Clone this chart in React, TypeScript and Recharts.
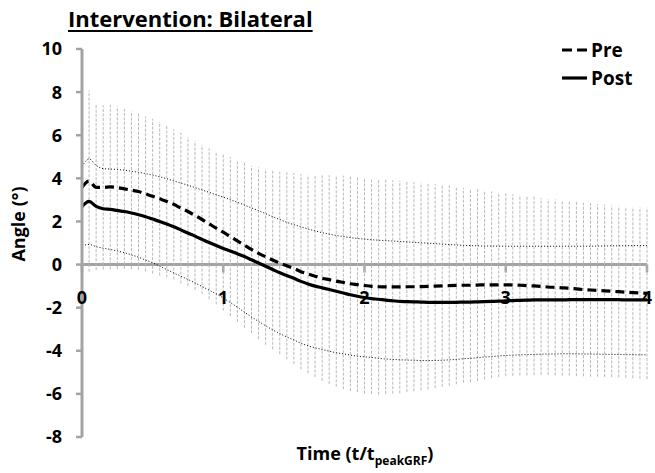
import React from 'react';
import { LineChart, Line, XAxis, YAxis, ErrorBar, ReferenceLine, ReferenceDot } from 'recharts';

// time in units of t/t_peakGRF
const time = [
  0, 0.05, 0.1, 0.15, 0.2, 0.25, 0.3, 0.35, 0.4, 0.45, 0.5, 0.55, 0.6, 0.65, 0.7, 0.75, 0.8, 0.85, 0.9, 0.95,
  1, 1.05, 1.1, 1.15, 1.2, 1.25, 1.3, 1.35, 1.4, 1.45, 1.5, 1.55, 1.6, 1.65, 1.7, 1.75, 1.8, 1.85, 1.9, 1.95,
  2, 2.05, 2.1, 2.15, 2.2, 2.25, 2.3, 2.35, 2.4, 2.45, 2.5, 2.55, 2.6, 2.65, 2.7, 2.75, 2.8, 2.85, 2.9, 2.95,
  3, 3.05, 3.1, 3.15, 3.2, 3.25, 3.3, 3.35, 3.4, 3.45, 3.5, 3.55, 3.6, 3.65, 3.7, 3.75, 3.8, 3.85, 3.9, 3.95,
  4,
];

const pre = [
  3.59, 3.87, 3.58, 3.58, 3.6, 3.57, 3.51, 3.45, 3.39, 3.28, 3.17, 3.05, 2.93, 2.79, 2.62, 2.46, 2.28, 2.09, 1.89, 1.69,
  1.5, 1.3, 1.1, 0.9, 0.7, 0.52, 0.36, 0.21, 0.07, -0.06, -0.18, -0.33, -0.44, -0.54, -0.63, -0.7, -0.77, -0.83, -0.89, -0.93,
  -0.97, -1.01, -1.03, -1.04, -1.04, -1.04, -1.03, -1.03, -1.02, -1.01, -1.0, -0.99, -0.98, -0.97, -0.96, -0.96, -0.95, -0.94, -0.94, -0.94,
  -0.94, -0.95, -0.96, -0.98, -0.99, -1.01, -1.04, -1.06, -1.08, -1.1, -1.13, -1.16, -1.18, -1.2, -1.22, -1.24, -1.26, -1.28, -1.3, -1.32,
  -1.34,
];

const preSD = [
  3.9, 4.2, 3.84, 3.81, 3.82, 3.77, 3.71, 3.66, 3.63, 3.59, 3.59, 3.56, 3.53, 3.48, 3.5, 3.46, 3.46, 3.46, 3.5, 3.54,
  3.64, 3.69, 3.76, 3.83, 3.88, 3.98, 4.08, 4.14, 4.23, 4.34, 4.43, 4.53, 4.6, 4.68, 4.76, 4.84, 4.9, 4.95, 4.98, 4.99,
  5.01, 5.0, 5.01, 4.97, 4.95, 4.93, 4.88, 4.85, 4.81, 4.78, 4.73, 4.68, 4.65, 4.58, 4.52, 4.49, 4.45, 4.39, 4.33, 4.28,
  4.24, 4.21, 4.18, 4.16, 4.14, 4.1, 4.08, 4.08, 4.07, 4.06, 4.04, 4.02, 4.02, 4.0, 3.99, 3.98, 3.97, 3.97, 3.97, 3.97,
  3.97,
];

const post = [
  2.69, 2.93, 2.7, 2.59, 2.56, 2.51, 2.46, 2.39, 2.31, 2.22, 2.11, 2.0, 1.88, 1.75, 1.61, 1.46, 1.32, 1.17, 1.02, 0.88,
  0.75, 0.63, 0.5, 0.37, 0.22, 0.07, -0.08, -0.23, -0.38, -0.51, -0.64, -0.78, -0.9, -1.0, -1.08, -1.16, -1.24, -1.32, -1.4, -1.47,
  -1.53, -1.58, -1.61, -1.65, -1.68, -1.71, -1.72, -1.73, -1.74, -1.75, -1.75, -1.75, -1.75, -1.75, -1.74, -1.74, -1.73, -1.72, -1.71, -1.7,
  -1.68, -1.67, -1.66, -1.65, -1.64, -1.64, -1.64, -1.64, -1.64, -1.63, -1.63, -1.63, -1.63, -1.63, -1.63, -1.63, -1.63, -1.64, -1.64, -1.64,
  -1.64,
];

// Post +/- 1 SD (dotted lines)
const postUpper = [
  4.55, 4.9, 4.6, 4.45, 4.43, 4.41, 4.38, 4.33, 4.28, 4.22, 4.15, 4.07, 3.98, 3.88, 3.78, 3.68, 3.57, 3.46, 3.35, 3.24,
  3.13, 3.01, 2.89, 2.76, 2.63, 2.5, 2.36, 2.22, 2.09, 1.96, 1.85, 1.75, 1.65, 1.56, 1.48, 1.41, 1.35, 1.3, 1.25, 1.21,
  1.18, 1.15, 1.13, 1.11, 1.09, 1.07, 1.05, 1.03, 1.01, 0.99, 0.97, 0.95, 0.93, 0.91, 0.89, 0.88, 0.87, 0.86, 0.86, 0.85,
  0.85, 0.85, 0.85, 0.85, 0.85, 0.85, 0.85, 0.85, 0.85, 0.85, 0.85, 0.85, 0.85, 0.86, 0.86, 0.87, 0.87, 0.87, 0.88, 0.88,
  0.88,
];

const postLower = [
  0.88, 0.93, 0.83, 0.76, 0.7, 0.63, 0.55, 0.45, 0.34, 0.21, 0.08, -0.07, -0.23, -0.39, -0.54, -0.69, -0.85, -1.02, -1.19, -1.36,
  -1.55, -1.76, -1.98, -2.21, -2.43, -2.64, -2.84, -3.03, -3.2, -3.36, -3.5, -3.65, -3.77, -3.86, -3.94, -4.02, -4.09, -4.14, -4.2, -4.25,
  -4.28, -4.31, -4.35, -4.38, -4.4, -4.42, -4.43, -4.44, -4.45, -4.45, -4.45, -4.44, -4.42, -4.4, -4.37, -4.35, -4.32, -4.29, -4.27, -4.24,
  -4.22, -4.2, -4.19, -4.18, -4.17, -4.16, -4.15, -4.15, -4.14, -4.14, -4.14, -4.15, -4.15, -4.16, -4.16, -4.17, -4.17, -4.18, -4.18, -4.19,
  -4.19,
];

const yTicks = [-8, -6, -4, -2, 0, 2, 4, 6, 8, 10];
const xTicks = [0, 1, 2, 3, 4];

const data = time.map((t, i) => ({
  time: t,
  pre: pre[i],
  preSD: preSD[i],
  post: post[i],
  postUpper: postUpper[i],
  postLower: postLower[i],
}));

const FONT = '"Open Sans", sans-serif';
const AXIS_GREY = '#a3a3a3';

function XTickLabel(props: any) {
  const { cx, cy, value } = props;
  return (
    <text x={cx} y={cy} textAnchor="middle" dominantBaseline="central"
      fontFamily={FONT} fontWeight={700} fontSize={18} fill="#000">
      {value}
    </text>
  );
}

function LegendRow({ label, dash, top }: { label: string; dash?: string; top: number }) {
  return (
    <div style={{ position: 'absolute', left: 561, top, height: 18, display: 'flex', alignItems: 'center' }}>
      <svg width={27} height={18}>
        <line x1={1} y1={9} x2={26} y2={9} stroke="#000" strokeWidth={3.2} strokeDasharray={dash} />
      </svg>
      <span style={{ marginLeft: 3, fontSize: 19, fontWeight: 700, lineHeight: '18px' }}>{label}</span>
    </div>
  );
}

export default function App() {
  return (
    <div style={{ position: 'absolute', left: 0, top: 0, width: 655, height: 473, background: '#fff', fontFamily: FONT, color: '#000' }}>
      <LineChart width={655} height={473} data={data} margin={{ top: 49, right: 8, bottom: 36, left: 0 }}>
        <XAxis dataKey="time" type="number" domain={[0, 4]} ticks={xTicks} hide />
        <YAxis
          type="number"
          domain={[-8, 10]}
          ticks={yTicks}
          interval={0}
          width={82}
          tickSize={6}
          tickMargin={14}
          axisLine={{ stroke: AXIS_GREY, strokeWidth: 3 }}
          tickLine={{ stroke: AXIS_GREY, strokeWidth: 2.5 }}
          tick={{ fill: '#000', fontSize: 18, fontWeight: 700, fontFamily: FONT }}
        />
        <ReferenceLine y={0} stroke={AXIS_GREY} strokeWidth={3} />
        {xTicks.map((t) => (
          <ReferenceLine key={`xt-${t}`} segment={[{ x: t, y: 0 }, { x: t, y: -0.37 }]} stroke={AXIS_GREY} strokeWidth={2.5} />
        ))}
        <Line dataKey="pre" stroke="none" dot={false} activeDot={false} isAnimationActive={false} legendType="none">
          <ErrorBar dataKey="preSD" direction="y" width={0} stroke="#b8b8b8" strokeWidth={1} strokeDasharray="3 1.5" isAnimationActive={false} />
        </Line>
        <Line dataKey="postUpper" type="monotone" stroke="#000" strokeWidth={1} strokeDasharray="1 2" dot={false} activeDot={false} isAnimationActive={false} />
        <Line dataKey="postLower" type="monotone" stroke="#000" strokeWidth={1} strokeDasharray="1 2" dot={false} activeDot={false} isAnimationActive={false} />
        <Line dataKey="pre" name="Pre" type="monotone" stroke="#000" strokeWidth={3.2} strokeDasharray="9 5" dot={false} activeDot={false} isAnimationActive={false} />
        <Line dataKey="post" name="Post" type="monotone" stroke="#000" strokeWidth={3.2} dot={false} activeDot={false} isAnimationActive={false} />
        {xTicks.map((t) => (
          <ReferenceDot key={`xl-${t}`} x={t} y={-1.5} r={1} shape={(p: any) => <XTickLabel {...p} value={t} />} />
        ))}
      </LineChart>

      <div style={{ position: 'absolute', left: 68, top: 8, fontSize: 22, lineHeight: '21px', fontWeight: 700,
        textDecoration: 'underline', textDecorationThickness: 2, textUnderlineOffset: 3, whiteSpace: 'nowrap' }}>
        Intervention: Bilateral
      </div>

      <LegendRow label="Pre" dash="10 5" top={41} />
      <LegendRow label="Post" top={69} />

      <div style={{ position: 'absolute', left: 18, top: 224, transform: 'translate(-50%, -50%) rotate(-90deg)',
        fontSize: 18, lineHeight: '18px', fontWeight: 700, whiteSpace: 'nowrap' }}>
        Angle (°)
      </div>

      <div style={{ position: 'absolute', left: 365, top: 444, transform: 'translateX(-50%)',
        fontSize: 18, lineHeight: '18px', fontWeight: 700, whiteSpace: 'nowrap' }}>
        Time (t/t<sub style={{ fontSize: 12 }}>peakGRF</sub>)
      </div>
    </div>
  );
}
